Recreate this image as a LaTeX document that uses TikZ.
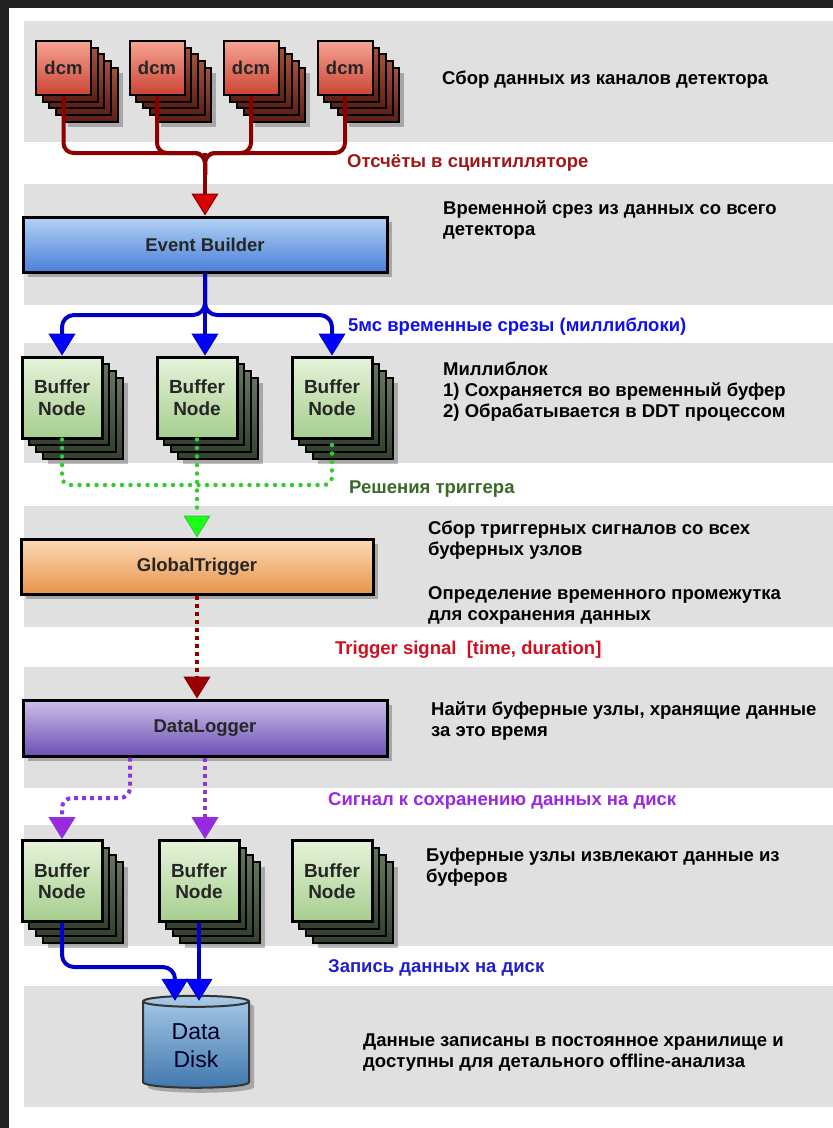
\documentclass[tikz,border=0pt]{standalone}
\usepackage{fontspec}
\setmainfont{Liberation Sans}
\usetikzlibrary{arrows.meta,shadows,shapes.geometric}

\definecolor{framegrey}{HTML}{222222}
\definecolor{bandgrey}{HTML}{E0E0E0}
\definecolor{lblred}{HTML}{A01818}
\definecolor{lblred2}{HTML}{D01020}
\definecolor{lblblue}{HTML}{1010EE}
\definecolor{lblblue2}{HTML}{2020CC}
\definecolor{lblgreen}{HTML}{3A6A28}
\definecolor{lblpurple}{HTML}{9A28E0}
\definecolor{redwire}{HTML}{8C0000}
\definecolor{bluewire}{HTML}{0000C8}
\definecolor{greenwire}{HTML}{33CC33}
\definecolor{purplewire}{HTML}{8E36D6}
\definecolor{ebtop}{HTML}{B4D2F4}
\definecolor{ebbot}{HTML}{4A80D8}
\definecolor{gttop}{HTML}{FCDAB6}
\definecolor{gtbot}{HTML}{E8944C}
\definecolor{dltop}{HTML}{CCC0E8}
\definecolor{dlbot}{HTML}{6C50B4}
\definecolor{dcmtop}{HTML}{F4A494}
\definecolor{dcmbot}{HTML}{CC4434}
\definecolor{dcmbacktop}{HTML}{A4523E}
\definecolor{dcmbackbot}{HTML}{5C1E14}
\definecolor{buftop}{HTML}{E6F3DA}
\definecolor{bufbot}{HTML}{A6CE8E}
\definecolor{bufbacktop}{HTML}{66765C}
\definecolor{bufbackbot}{HTML}{34402E}
\definecolor{disktop}{HTML}{A8CAE6}
\definecolor{diskbot}{HTML}{4078AE}

\newcommand\notefont{\fontsize{18.5}{21}\selectfont\bfseries}

\tikzset{
  note/.style={anchor=west, inner sep=0pt, align=left, font=\notefont},
  flowlabel/.style={anchor=west, inner sep=0pt, font=\notefont},
  boxshadow/.style={drop shadow={shadow xshift=5pt, shadow yshift=-5pt, fill=black, opacity=0.25}},
  bigbox/.style={draw=black, line width=3pt, minimum width=364pt, minimum height=55pt,
    font=\fontsize{18.5}{21}\selectfont\bfseries, text=black!85, boxshadow},
  dcmbox/.style={draw=black, line width=2pt, minimum width=55pt, minimum height=54pt,
    top color=dcmtop, bottom color=dcmbot,
    font=\fontsize{18.5}{20}\selectfont\bfseries, text=black!85},
  dcmback/.style={draw=black, line width=2pt, minimum width=55pt, minimum height=54pt,
    top color=dcmbacktop, bottom color=dcmbackbot},
  bufbox/.style={draw=black, line width=3pt, minimum width=80pt, minimum height=81pt,
    top color=buftop, bottom color=bufbot,
    align=center, font=\fontsize{19}{21.5}\selectfont\bfseries, text=black!85},
  bufback/.style={draw=black, line width=2pt, minimum width=80pt, minimum height=81pt,
    top color=bufbacktop, bottom color=bufbackbot},
  datadisk/.style={cylinder, shape border rotate=90, aspect=0.2, draw=black!80, line width=2pt,
    minimum width=106pt, minimum height=92pt, top color=disktop,
    bottom color=diskbot, align=center,
    font=\fontsize{23}{28}\selectfont, text=blue!15!black, boxshadow},
  redline/.style={draw=redwire, line width=4pt, rounded corners=10pt},
  blueline/.style={draw=bluewire, line width=4pt, rounded corners=12pt},
  greendots/.style={draw=greenwire, line width=4.5pt, line cap=round, dash pattern=on 0pt off 8.5pt, rounded corners=8pt},
  reddots/.style={draw=redwire, line width=4pt, dash pattern=on 4pt off 4pt},
  purpledots/.style={draw=purplewire, line width=4pt, dash pattern=on 4pt off 4pt, rounded corners=10pt},
  redtip/.style={-{Triangle[width=27pt,length=22pt,line width=1pt,fill=red!85!black]}},
  bluetip/.style={-{Triangle[width=27pt,length=22pt,line width=1pt,fill=blue]}},
  greentip/.style={-{Triangle[width=27pt,length=22pt,line width=1pt,fill=green!90!white]}},
  darkredtip/.style={-{Triangle[width=27pt,length=22pt,line width=1pt,fill=red!60!black]}},
  purpletip/.style={-{Triangle[width=27pt,length=22pt,line width=1pt,fill=lblpurple]}}
}

\begin{document}
\begin{tikzpicture}[x=1pt,y=-1pt]
\useasboundingbox (0,0) rectangle (833,1128);
\fill[framegrey] (0,0) rectangle (833,1128);
\fill[white] (9,8) rectangle (833,1128);
% grey bands
\foreach \t/\b in {21/142,184/305,343/463,506/627,667/788,825/946,986/1107}
  \fill[bandgrey] (24,\t) rectangle (833,\b);

% dcm stacks
\foreach \n/\x in {1/63.5,2/157,3/251,4/345} {
  \node[dcmback, boxshadow] at (\x+26.8,68+26.8) {};
  \foreach \k in {3,2,1}
    \node[dcmback] at (\x+\k*6.7,68+\k*6.7) {};
  \node[dcmbox] (dcm\n) at (\x,68) {dcm};
}

% big boxes
\node[bigbox, top color=ebtop, bottom color=ebbot] (eb) at (205,244.5) {Event Builder};
\node[bigbox, minimum width=352pt, top color=gttop, bottom color=gtbot] (gt) at (197,566.5) {GlobalTrigger};
\node[bigbox, minimum height=56pt, top color=dltop, bottom color=dlbot] (dl) at (205,728) {DataLogger};

% buffer nodes
\foreach \n/\x in {1/62,2/197,3/332} {
  \node[bufback, boxshadow] at (\x+21,397.5+21) {};
  \foreach \k in {2,1}
    \node[bufback] at (\x+\k*7,397.5+\k*7) {};
  \node[bufbox] (b\n) at (\x,397.5) {Buffer\\Node};
}
\foreach \n/\x in {1/62,2/199,3/332} {
  \node[bufback, boxshadow] at (\x+21,881+21) {};
  \foreach \k in {2,1}
    \node[bufback] at (\x+\k*7,881+\k*7) {};
  \node[bufbox] (c\n) at (\x,881) {Buffer\\Node};
}

% data disk
\node[datadisk] (disk) at (196,1046) {Data\\Disk};

% dcm -> event builder
\coordinate (rjoin) at (205,153);
\foreach \n in {1,2,3,4}
  \draw[redline] (dcm\n.south) |- (rjoin) -- ++(0,22);
\draw[redline, redtip] (rjoin) -- (eb.north);

% event builder -> buffer nodes
\coordinate (bjoin) at (205,315);
\draw[blueline, bluetip] (eb.south) |- (bjoin) -| (b1.north);
\draw[blueline, bluetip] (eb.south) |- (bjoin) -| (b3.north);
\draw[blueline, bluetip] (eb.south) -- (eb.south |- b2.north);

% trigger decisions
\coordinate (gjoin) at (197,485);
\draw[greendots] (b1.south) |- (gjoin) -| (b3.south);
\draw[greendots, greentip] (b2.south) -- (gt.north);

% trigger signal
\draw[reddots, darkredtip] (gt.south) -- (gt.south |- dl.north);

% save signal
\coordinate (pbend) at (130,798);
\draw[purpledots, purpletip] (dl.south -| pbend) -- (pbend) -| (c1.north);
\draw[purpledots, purpletip] (dl.south) -- (dl.south |- c2.north);

% write to disk
\coordinate (wbend) at (175,967);
\draw[blueline, bluetip, shorten >=-6pt] (c1.south) |- (wbend) -- (wbend |- disk.north);
\draw[blueline, bluetip, shorten >=-6pt] (c2.south) -- (c2.south |- disk.north);

% texts
\node[note] (t1) at (442,80) {Сбор данных из каналов детектора};
\node[flowlabel, text=lblred] (l1) at (347,163) {Отсчёты в сцинтилляторе};
\node[note] (t2) at (443,220) {Временной срез из данных со всего\\детектора};
\node[flowlabel, text=lblblue] (l2) at (348,327) {5мс временные срезы (миллиблоки)};
\node[note] (t3) at (443,392) {Миллиблок\\1) Сохраняется во временный буфер\\2) Обрабатывается в DDT процессом};
\node[flowlabel, text=lblgreen] (l3) at (349,489) {Решения триггера};
\node[note] (t4) at (428,540.5) {Сбор триггерных сигналов со всех\\буферных узлов};
\node[note] (t5) at (428,605) {Определение временного промежутка\\для сохранения данных};
\node[flowlabel, text=lblred2] (l4) at (335,650) {Trigger signal\ \ [time, duration]};
\node[note] (t6) at (431,721) {Найти буферные узлы, хранящие данные\\за это время};
\node[flowlabel, text=lblpurple] (l5) at (328,801) {Сигнал к сохранению данных на диск};
\node[note] (t7) at (426,867) {Буферные узлы извлекают данные из\\буферов};
\node[flowlabel, text=lblblue2] (l6) at (328,968) {Запись данных на диск};
\node[note] (t8) at (363,1053) {Данные записаны в постоянное хранилище и\\доступны для детального offline-анализа};
\end{tikzpicture}
\end{document}
